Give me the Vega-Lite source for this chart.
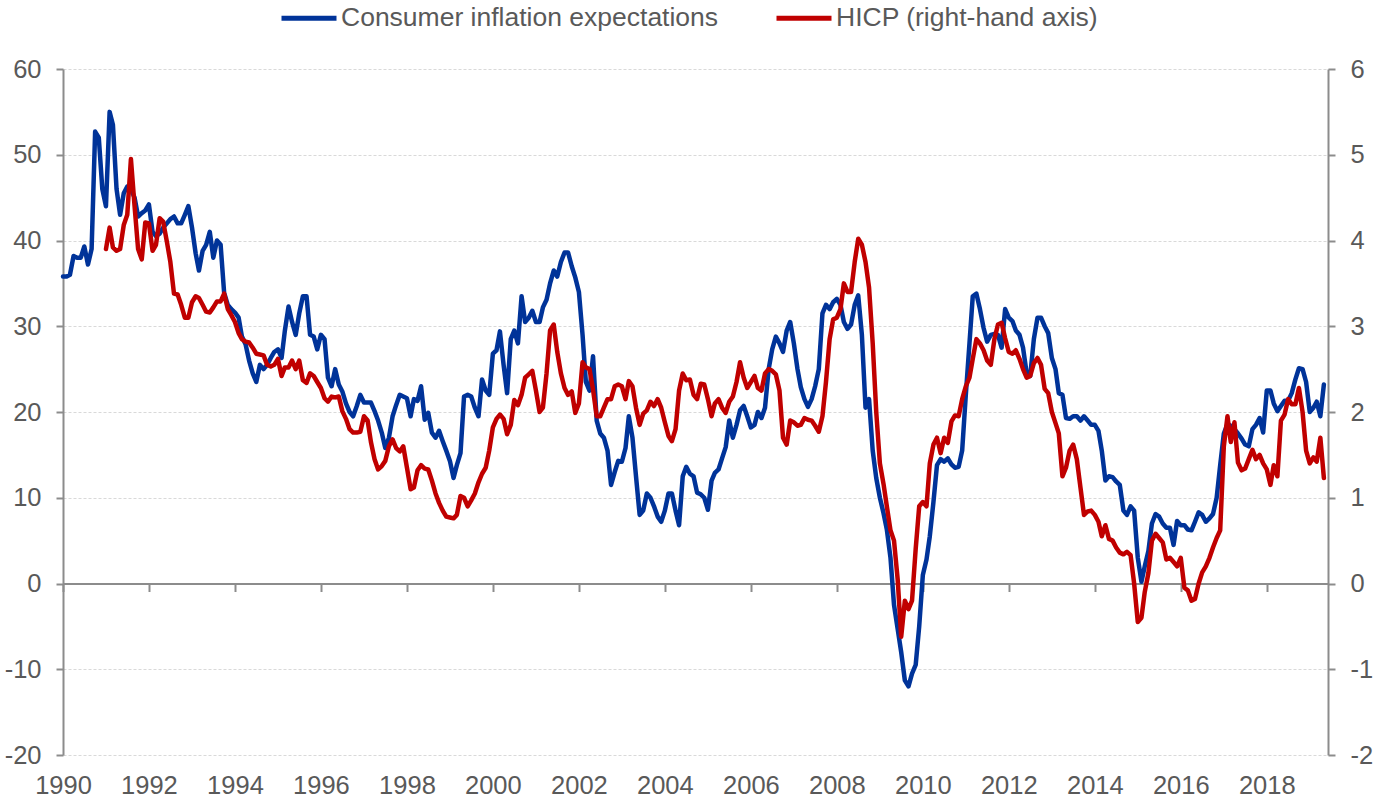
{
"$schema":"https://vega.github.io/schema/vega-lite/v6.json",
"width":1265,"height":686,
"autosize":{"type":"none"},
"padding":{"left":63,"top":69,"right":47,"bottom":46},
"background":"white",
"config":{"view":{"stroke":null},"font":"Liberation Sans",
"axis":{"labelFont":"Liberation Sans","labelFontSize":25.5,"labelColor":"#595959","domainColor":"#8c8c8c","tickColor":"#8c8c8c","domainWidth":2,"tickWidth":2,"tickSize":7,"labelPadding":15,"title":null,"gridColor":"#d9d9d9","gridDash":[3,2],"gridWidth":1}},
"datasets":{
"cie":[
{"d":"1990-01","v":35.8},{"d":"1990-02","v":35.8},{"d":"1990-03","v":36.0},{"d":"1990-04","v":38.2},{"d":"1990-05","v":38.0},{"d":"1990-06","v":38.0},{"d":"1990-07","v":39.3},{"d":"1990-08","v":37.2},{"d":"1990-09","v":39.0},{"d":"1990-10","v":52.7},{"d":"1990-11","v":52.0},{"d":"1990-12","v":46.0},
{"d":"1991-01","v":44.0},{"d":"1991-02","v":55.0},{"d":"1991-03","v":53.5},{"d":"1991-04","v":46.0},{"d":"1991-05","v":43.0},{"d":"1991-06","v":45.5},{"d":"1991-07","v":46.3},{"d":"1991-08","v":46.0},{"d":"1991-09","v":45.0},{"d":"1991-10","v":42.8},{"d":"1991-11","v":43.2},{"d":"1991-12","v":43.5},
{"d":"1992-01","v":44.2},{"d":"1992-02","v":41.0},{"d":"1992-03","v":40.5},{"d":"1992-04","v":40.8},{"d":"1992-05","v":41.5},{"d":"1992-06","v":42.0},{"d":"1992-07","v":42.5},{"d":"1992-08","v":42.8},{"d":"1992-09","v":42.0},{"d":"1992-10","v":42.0},{"d":"1992-11","v":43.0},{"d":"1992-12","v":44.0},
{"d":"1993-01","v":41.5},{"d":"1993-02","v":38.5},{"d":"1993-03","v":36.5},{"d":"1993-04","v":38.8},{"d":"1993-05","v":39.5},{"d":"1993-06","v":41.0},{"d":"1993-07","v":38.0},{"d":"1993-08","v":40.0},{"d":"1993-09","v":39.5},{"d":"1993-10","v":33.9},{"d":"1993-11","v":32.5},{"d":"1993-12","v":32.0},
{"d":"1994-01","v":31.6},{"d":"1994-02","v":31.0},{"d":"1994-03","v":28.8},{"d":"1994-04","v":27.9},{"d":"1994-05","v":26.0},{"d":"1994-06","v":24.5},{"d":"1994-07","v":23.5},{"d":"1994-08","v":25.5},{"d":"1994-09","v":25.0},{"d":"1994-10","v":25.5},{"d":"1994-11","v":26.3},{"d":"1994-12","v":27.0},
{"d":"1995-01","v":27.3},{"d":"1995-02","v":26.3},{"d":"1995-03","v":29.5},{"d":"1995-04","v":32.3},{"d":"1995-05","v":30.5},{"d":"1995-06","v":29.0},{"d":"1995-07","v":31.5},{"d":"1995-08","v":33.5},{"d":"1995-09","v":33.5},{"d":"1995-10","v":29.0},{"d":"1995-11","v":28.8},{"d":"1995-12","v":27.3},
{"d":"1996-01","v":29.0},{"d":"1996-02","v":28.5},{"d":"1996-03","v":24.0},{"d":"1996-04","v":23.0},{"d":"1996-05","v":25.0},{"d":"1996-06","v":23.2},{"d":"1996-07","v":22.4},{"d":"1996-08","v":21.0},{"d":"1996-09","v":20.0},{"d":"1996-10","v":19.5},{"d":"1996-11","v":20.7},{"d":"1996-12","v":22.0},
{"d":"1997-01","v":21.1},{"d":"1997-02","v":21.1},{"d":"1997-03","v":21.1},{"d":"1997-04","v":20.1},{"d":"1997-05","v":19.0},{"d":"1997-06","v":17.6},{"d":"1997-07","v":15.8},{"d":"1997-08","v":17.0},{"d":"1997-09","v":19.5},{"d":"1997-10","v":20.8},{"d":"1997-11","v":22.0},{"d":"1997-12","v":21.8},
{"d":"1998-01","v":21.6},{"d":"1998-02","v":19.5},{"d":"1998-03","v":21.5},{"d":"1998-04","v":21.3},{"d":"1998-05","v":23.0},{"d":"1998-06","v":19.1},{"d":"1998-07","v":19.9},{"d":"1998-08","v":17.6},{"d":"1998-09","v":17.0},{"d":"1998-10","v":17.8},{"d":"1998-11","v":16.6},{"d":"1998-12","v":15.5},
{"d":"1999-01","v":14.3},{"d":"1999-02","v":12.3},{"d":"1999-03","v":13.8},{"d":"1999-04","v":15.2},{"d":"1999-05","v":21.8},{"d":"1999-06","v":22.0},{"d":"1999-07","v":21.8},{"d":"1999-08","v":20.5},{"d":"1999-09","v":19.5},{"d":"1999-10","v":23.8},{"d":"1999-11","v":22.5},{"d":"1999-12","v":22.0},
{"d":"2000-01","v":26.8},{"d":"2000-02","v":27.2},{"d":"2000-03","v":29.4},{"d":"2000-04","v":25.5},{"d":"2000-05","v":22.2},{"d":"2000-06","v":28.5},{"d":"2000-07","v":29.5},{"d":"2000-08","v":28.0},{"d":"2000-09","v":33.5},{"d":"2000-10","v":30.5},{"d":"2000-11","v":31.0},{"d":"2000-12","v":31.8},
{"d":"2001-01","v":30.5},{"d":"2001-02","v":30.5},{"d":"2001-03","v":32.2},{"d":"2001-04","v":33.1},{"d":"2001-05","v":35.0},{"d":"2001-06","v":36.5},{"d":"2001-07","v":35.8},{"d":"2001-08","v":37.5},{"d":"2001-09","v":38.6},{"d":"2001-10","v":38.6},{"d":"2001-11","v":37.0},{"d":"2001-12","v":35.7},
{"d":"2002-01","v":34.0},{"d":"2002-02","v":29.0},{"d":"2002-03","v":23.5},{"d":"2002-04","v":22.5},{"d":"2002-05","v":26.5},{"d":"2002-06","v":19.0},{"d":"2002-07","v":17.5},{"d":"2002-08","v":17.0},{"d":"2002-09","v":15.5},{"d":"2002-10","v":11.5},{"d":"2002-11","v":13.0},{"d":"2002-12","v":14.3},
{"d":"2003-01","v":14.2},{"d":"2003-02","v":15.8},{"d":"2003-03","v":19.5},{"d":"2003-04","v":17.0},{"d":"2003-05","v":12.5},{"d":"2003-06","v":8.0},{"d":"2003-07","v":8.5},{"d":"2003-08","v":10.5},{"d":"2003-09","v":10.0},{"d":"2003-10","v":9.0},{"d":"2003-11","v":7.8},{"d":"2003-12","v":7.2},
{"d":"2004-01","v":8.5},{"d":"2004-02","v":10.5},{"d":"2004-03","v":10.5},{"d":"2004-04","v":8.5},{"d":"2004-05","v":6.8},{"d":"2004-06","v":12.5},{"d":"2004-07","v":13.6},{"d":"2004-08","v":12.8},{"d":"2004-09","v":12.5},{"d":"2004-10","v":10.6},{"d":"2004-11","v":10.4},{"d":"2004-12","v":10.0},
{"d":"2005-01","v":8.6},{"d":"2005-02","v":12.0},{"d":"2005-03","v":12.9},{"d":"2005-04","v":13.3},{"d":"2005-05","v":14.6},{"d":"2005-06","v":15.9},{"d":"2005-07","v":19.0},{"d":"2005-08","v":17.0},{"d":"2005-09","v":18.5},{"d":"2005-10","v":20.2},{"d":"2005-11","v":20.7},{"d":"2005-12","v":19.5},
{"d":"2006-01","v":18.2},{"d":"2006-02","v":18.5},{"d":"2006-03","v":20.0},{"d":"2006-04","v":19.3},{"d":"2006-05","v":20.5},{"d":"2006-06","v":25.0},{"d":"2006-07","v":27.3},{"d":"2006-08","v":28.8},{"d":"2006-09","v":28.0},{"d":"2006-10","v":27.0},{"d":"2006-11","v":29.5},{"d":"2006-12","v":30.5},
{"d":"2007-01","v":28.0},{"d":"2007-02","v":25.0},{"d":"2007-03","v":22.9},{"d":"2007-04","v":21.5},{"d":"2007-05","v":20.6},{"d":"2007-06","v":21.5},{"d":"2007-07","v":23.0},{"d":"2007-08","v":25.0},{"d":"2007-09","v":31.5},{"d":"2007-10","v":32.5},{"d":"2007-11","v":32.0},{"d":"2007-12","v":32.8},
{"d":"2008-01","v":33.2},{"d":"2008-02","v":32.5},{"d":"2008-03","v":30.5},{"d":"2008-04","v":29.7},{"d":"2008-05","v":30.2},{"d":"2008-06","v":32.5},{"d":"2008-07","v":33.6},{"d":"2008-08","v":29.0},{"d":"2008-09","v":20.5},{"d":"2008-10","v":21.5},{"d":"2008-11","v":15.5},{"d":"2008-12","v":12.3},
{"d":"2009-01","v":10.0},{"d":"2009-02","v":8.2},{"d":"2009-03","v":6.3},{"d":"2009-04","v":3.0},{"d":"2009-05","v":-2.5},{"d":"2009-06","v":-5.3},{"d":"2009-07","v":-8.0},{"d":"2009-08","v":-11.3},{"d":"2009-09","v":-12.0},{"d":"2009-10","v":-10.5},{"d":"2009-11","v":-9.5},{"d":"2009-12","v":-5.0},
{"d":"2010-01","v":1.0},{"d":"2010-02","v":2.8},{"d":"2010-03","v":5.5},{"d":"2010-04","v":9.5},{"d":"2010-05","v":13.8},{"d":"2010-06","v":14.5},{"d":"2010-07","v":14.2},{"d":"2010-08","v":14.6},{"d":"2010-09","v":13.9},{"d":"2010-10","v":13.5},{"d":"2010-11","v":13.6},{"d":"2010-12","v":15.5},
{"d":"2011-01","v":22.0},{"d":"2011-02","v":28.0},{"d":"2011-03","v":33.5},{"d":"2011-04","v":33.8},{"d":"2011-05","v":32.0},{"d":"2011-06","v":29.8},{"d":"2011-07","v":28.2},{"d":"2011-08","v":29.0},{"d":"2011-09","v":29.1},{"d":"2011-10","v":29.0},{"d":"2011-11","v":27.5},{"d":"2011-12","v":32.0},
{"d":"2012-01","v":31.0},{"d":"2012-02","v":30.6},{"d":"2012-03","v":29.5},{"d":"2012-04","v":29.0},{"d":"2012-05","v":27.5},{"d":"2012-06","v":24.5},{"d":"2012-07","v":24.2},{"d":"2012-08","v":28.5},{"d":"2012-09","v":31.0},{"d":"2012-10","v":31.0},{"d":"2012-11","v":30.0},{"d":"2012-12","v":29.2},
{"d":"2013-01","v":26.3},{"d":"2013-02","v":25.0},{"d":"2013-03","v":22.2},{"d":"2013-04","v":22.0},{"d":"2013-05","v":19.3},{"d":"2013-06","v":19.2},{"d":"2013-07","v":19.5},{"d":"2013-08","v":19.5},{"d":"2013-09","v":19.0},{"d":"2013-10","v":19.5},{"d":"2013-11","v":19.0},{"d":"2013-12","v":18.5},
{"d":"2014-01","v":18.5},{"d":"2014-02","v":17.8},{"d":"2014-03","v":15.5},{"d":"2014-04","v":12.0},{"d":"2014-05","v":12.5},{"d":"2014-06","v":12.4},{"d":"2014-07","v":11.9},{"d":"2014-08","v":11.5},{"d":"2014-09","v":8.5},{"d":"2014-10","v":8.0},{"d":"2014-11","v":9.0},{"d":"2014-12","v":8.5},
{"d":"2015-01","v":3.0},{"d":"2015-02","v":0.2},{"d":"2015-03","v":2.0},{"d":"2015-04","v":3.8},{"d":"2015-05","v":7.0},{"d":"2015-06","v":8.1},{"d":"2015-07","v":7.8},{"d":"2015-08","v":7.0},{"d":"2015-09","v":6.5},{"d":"2015-10","v":6.5},{"d":"2015-11","v":4.5},{"d":"2015-12","v":7.3},
{"d":"2016-01","v":6.8},{"d":"2016-02","v":6.8},{"d":"2016-03","v":6.3},{"d":"2016-04","v":6.2},{"d":"2016-05","v":7.2},{"d":"2016-06","v":8.3},{"d":"2016-07","v":8.0},{"d":"2016-08","v":7.2},{"d":"2016-09","v":7.6},{"d":"2016-10","v":8.1},{"d":"2016-11","v":10.0},{"d":"2016-12","v":13.8},
{"d":"2017-01","v":17.5},{"d":"2017-02","v":18.6},{"d":"2017-03","v":18.4},{"d":"2017-04","v":18.0},{"d":"2017-05","v":17.5},{"d":"2017-06","v":16.9},{"d":"2017-07","v":16.2},{"d":"2017-08","v":16.0},{"d":"2017-09","v":18.0},{"d":"2017-10","v":18.5},{"d":"2017-11","v":19.3},{"d":"2017-12","v":17.6},
{"d":"2018-01","v":22.5},{"d":"2018-02","v":22.5},{"d":"2018-03","v":21.0},{"d":"2018-04","v":20.1},{"d":"2018-05","v":20.7},{"d":"2018-06","v":21.3},{"d":"2018-07","v":21.3},{"d":"2018-08","v":22.2},{"d":"2018-09","v":23.8},{"d":"2018-10","v":25.1},{"d":"2018-11","v":25.0},{"d":"2018-12","v":23.5},
{"d":"2019-01","v":20.0},{"d":"2019-02","v":20.5},{"d":"2019-03","v":21.2},{"d":"2019-04","v":19.5},{"d":"2019-05","v":23.2}
],
"hicp":[
{"d":"1991-01","v":3.90},{"d":"1991-02","v":4.15},{"d":"1991-03","v":3.92},{"d":"1991-04","v":3.88},{"d":"1991-05","v":3.90},{"d":"1991-06","v":4.18},{"d":"1991-07","v":4.30},{"d":"1991-08","v":4.95},{"d":"1991-09","v":4.40},{"d":"1991-10","v":3.90},{"d":"1991-11","v":3.78},{"d":"1991-12","v":4.21},
{"d":"1992-01","v":4.20},{"d":"1992-02","v":3.88},{"d":"1992-03","v":3.95},{"d":"1992-04","v":4.26},{"d":"1992-05","v":4.22},{"d":"1992-06","v":3.99},{"d":"1992-07","v":3.75},{"d":"1992-08","v":3.38},{"d":"1992-09","v":3.37},{"d":"1992-10","v":3.25},{"d":"1992-11","v":3.10},{"d":"1992-12","v":3.10},
{"d":"1993-01","v":3.28},{"d":"1993-02","v":3.35},{"d":"1993-03","v":3.33},{"d":"1993-04","v":3.25},{"d":"1993-05","v":3.17},{"d":"1993-06","v":3.16},{"d":"1993-07","v":3.22},{"d":"1993-08","v":3.29},{"d":"1993-09","v":3.29},{"d":"1993-10","v":3.38},{"d":"1993-11","v":3.20},{"d":"1993-12","v":3.13},
{"d":"1994-01","v":3.05},{"d":"1994-02","v":2.92},{"d":"1994-03","v":2.85},{"d":"1994-04","v":2.82},{"d":"1994-05","v":2.81},{"d":"1994-06","v":2.75},{"d":"1994-07","v":2.68},{"d":"1994-08","v":2.67},{"d":"1994-09","v":2.66},{"d":"1994-10","v":2.55},{"d":"1994-11","v":2.53},{"d":"1994-12","v":2.55},
{"d":"1995-01","v":2.62},{"d":"1995-02","v":2.42},{"d":"1995-03","v":2.52},{"d":"1995-04","v":2.52},{"d":"1995-05","v":2.60},{"d":"1995-06","v":2.50},{"d":"1995-07","v":2.60},{"d":"1995-08","v":2.37},{"d":"1995-09","v":2.34},{"d":"1995-10","v":2.45},{"d":"1995-11","v":2.42},{"d":"1995-12","v":2.35},
{"d":"1996-01","v":2.28},{"d":"1996-02","v":2.16},{"d":"1996-03","v":2.12},{"d":"1996-04","v":2.18},{"d":"1996-05","v":2.17},{"d":"1996-06","v":2.18},{"d":"1996-07","v":2.01},{"d":"1996-08","v":1.92},{"d":"1996-09","v":1.80},{"d":"1996-10","v":1.76},{"d":"1996-11","v":1.76},{"d":"1996-12","v":1.77},
{"d":"1997-01","v":1.95},{"d":"1997-02","v":1.90},{"d":"1997-03","v":1.65},{"d":"1997-04","v":1.45},{"d":"1997-05","v":1.33},{"d":"1997-06","v":1.37},{"d":"1997-07","v":1.43},{"d":"1997-08","v":1.60},{"d":"1997-09","v":1.68},{"d":"1997-10","v":1.58},{"d":"1997-11","v":1.54},{"d":"1997-12","v":1.60},
{"d":"1998-01","v":1.35},{"d":"1998-02","v":1.10},{"d":"1998-03","v":1.12},{"d":"1998-04","v":1.32},{"d":"1998-05","v":1.38},{"d":"1998-06","v":1.34},{"d":"1998-07","v":1.33},{"d":"1998-08","v":1.20},{"d":"1998-09","v":1.05},{"d":"1998-10","v":0.94},{"d":"1998-11","v":0.85},{"d":"1998-12","v":0.78},
{"d":"1999-01","v":0.77},{"d":"1999-02","v":0.76},{"d":"1999-03","v":0.80},{"d":"1999-04","v":1.02},{"d":"1999-05","v":1.00},{"d":"1999-06","v":0.90},{"d":"1999-07","v":0.97},{"d":"1999-08","v":1.05},{"d":"1999-09","v":1.18},{"d":"1999-10","v":1.28},{"d":"1999-11","v":1.35},{"d":"1999-12","v":1.55},
{"d":"2000-01","v":1.82},{"d":"2000-02","v":1.92},{"d":"2000-03","v":1.97},{"d":"2000-04","v":1.92},{"d":"2000-05","v":1.74},{"d":"2000-06","v":1.85},{"d":"2000-07","v":2.14},{"d":"2000-08","v":2.08},{"d":"2000-09","v":2.20},{"d":"2000-10","v":2.40},{"d":"2000-11","v":2.44},{"d":"2000-12","v":2.48},
{"d":"2001-01","v":2.25},{"d":"2001-02","v":2.00},{"d":"2001-03","v":2.05},{"d":"2001-04","v":2.45},{"d":"2001-05","v":2.95},{"d":"2001-06","v":3.02},{"d":"2001-07","v":2.70},{"d":"2001-08","v":2.45},{"d":"2001-09","v":2.28},{"d":"2001-10","v":2.20},{"d":"2001-11","v":2.24},{"d":"2001-12","v":1.99},
{"d":"2002-01","v":2.10},{"d":"2002-02","v":2.58},{"d":"2002-03","v":2.52},{"d":"2002-04","v":2.50},{"d":"2002-05","v":2.26},{"d":"2002-06","v":1.95},{"d":"2002-07","v":1.95},{"d":"2002-08","v":2.05},{"d":"2002-09","v":2.15},{"d":"2002-10","v":2.15},{"d":"2002-11","v":2.30},{"d":"2002-12","v":2.32},
{"d":"2003-01","v":2.30},{"d":"2003-02","v":2.15},{"d":"2003-03","v":2.36},{"d":"2003-04","v":2.30},{"d":"2003-05","v":2.05},{"d":"2003-06","v":1.85},{"d":"2003-07","v":1.98},{"d":"2003-08","v":2.02},{"d":"2003-09","v":2.12},{"d":"2003-10","v":2.07},{"d":"2003-11","v":2.15},{"d":"2003-12","v":2.05},
{"d":"2004-01","v":1.88},{"d":"2004-02","v":1.72},{"d":"2004-03","v":1.66},{"d":"2004-04","v":1.80},{"d":"2004-05","v":2.25},{"d":"2004-06","v":2.45},{"d":"2004-07","v":2.37},{"d":"2004-08","v":2.38},{"d":"2004-09","v":2.20},{"d":"2004-10","v":2.15},{"d":"2004-11","v":2.33},{"d":"2004-12","v":2.32},
{"d":"2005-01","v":2.15},{"d":"2005-02","v":1.95},{"d":"2005-03","v":2.10},{"d":"2005-04","v":2.15},{"d":"2005-05","v":2.05},{"d":"2005-06","v":1.99},{"d":"2005-07","v":2.12},{"d":"2005-08","v":2.18},{"d":"2005-09","v":2.35},{"d":"2005-10","v":2.58},{"d":"2005-11","v":2.40},{"d":"2005-12","v":2.28},
{"d":"2006-01","v":2.35},{"d":"2006-02","v":2.42},{"d":"2006-03","v":2.28},{"d":"2006-04","v":2.25},{"d":"2006-05","v":2.45},{"d":"2006-06","v":2.50},{"d":"2006-07","v":2.48},{"d":"2006-08","v":2.44},{"d":"2006-09","v":2.25},{"d":"2006-10","v":1.70},{"d":"2006-11","v":1.62},{"d":"2006-12","v":1.90},
{"d":"2007-01","v":1.88},{"d":"2007-02","v":1.84},{"d":"2007-03","v":1.85},{"d":"2007-04","v":1.93},{"d":"2007-05","v":1.91},{"d":"2007-06","v":1.90},{"d":"2007-07","v":1.84},{"d":"2007-08","v":1.77},{"d":"2007-09","v":1.95},{"d":"2007-10","v":2.35},{"d":"2007-11","v":2.85},{"d":"2007-12","v":3.08},
{"d":"2008-01","v":3.10},{"d":"2008-02","v":3.20},{"d":"2008-03","v":3.50},{"d":"2008-04","v":3.40},{"d":"2008-05","v":3.40},{"d":"2008-06","v":3.75},{"d":"2008-07","v":4.02},{"d":"2008-08","v":3.95},{"d":"2008-09","v":3.75},{"d":"2008-10","v":3.45},{"d":"2008-11","v":2.80},{"d":"2008-12","v":2.00},
{"d":"2009-01","v":1.40},{"d":"2009-02","v":1.16},{"d":"2009-03","v":0.90},{"d":"2009-04","v":0.62},{"d":"2009-05","v":0.50},{"d":"2009-06","v":0.05},{"d":"2009-07","v":-0.62},{"d":"2009-08","v":-0.20},{"d":"2009-09","v":-0.30},{"d":"2009-10","v":-0.20},{"d":"2009-11","v":0.40},{"d":"2009-12","v":0.90},
{"d":"2010-01","v":0.95},{"d":"2010-02","v":0.90},{"d":"2010-03","v":1.40},{"d":"2010-04","v":1.62},{"d":"2010-05","v":1.70},{"d":"2010-06","v":1.52},{"d":"2010-07","v":1.70},{"d":"2010-08","v":1.64},{"d":"2010-09","v":1.89},{"d":"2010-10","v":1.96},{"d":"2010-11","v":1.95},{"d":"2010-12","v":2.15},
{"d":"2011-01","v":2.30},{"d":"2011-02","v":2.40},{"d":"2011-03","v":2.62},{"d":"2011-04","v":2.85},{"d":"2011-05","v":2.80},{"d":"2011-06","v":2.72},{"d":"2011-07","v":2.60},{"d":"2011-08","v":2.55},{"d":"2011-09","v":2.85},{"d":"2011-10","v":3.02},{"d":"2011-11","v":3.04},{"d":"2011-12","v":2.86},
{"d":"2012-01","v":2.70},{"d":"2012-02","v":2.68},{"d":"2012-03","v":2.72},{"d":"2012-04","v":2.62},{"d":"2012-05","v":2.50},{"d":"2012-06","v":2.40},{"d":"2012-07","v":2.42},{"d":"2012-08","v":2.57},{"d":"2012-09","v":2.63},{"d":"2012-10","v":2.55},{"d":"2012-11","v":2.27},{"d":"2012-12","v":2.22},
{"d":"2013-01","v":2.00},{"d":"2013-02","v":1.87},{"d":"2013-03","v":1.75},{"d":"2013-04","v":1.25},{"d":"2013-05","v":1.35},{"d":"2013-06","v":1.55},{"d":"2013-07","v":1.62},{"d":"2013-08","v":1.45},{"d":"2013-09","v":1.12},{"d":"2013-10","v":0.80},{"d":"2013-11","v":0.84},{"d":"2013-12","v":0.85},
{"d":"2014-01","v":0.80},{"d":"2014-02","v":0.72},{"d":"2014-03","v":0.55},{"d":"2014-04","v":0.68},{"d":"2014-05","v":0.52},{"d":"2014-06","v":0.50},{"d":"2014-07","v":0.42},{"d":"2014-08","v":0.36},{"d":"2014-09","v":0.34},{"d":"2014-10","v":0.37},{"d":"2014-11","v":0.33},{"d":"2014-12","v":0.00},
{"d":"2015-01","v":-0.45},{"d":"2015-02","v":-0.40},{"d":"2015-03","v":-0.10},{"d":"2015-04","v":0.12},{"d":"2015-05","v":0.50},{"d":"2015-06","v":0.58},{"d":"2015-07","v":0.53},{"d":"2015-08","v":0.48},{"d":"2015-09","v":0.28},{"d":"2015-10","v":0.30},{"d":"2015-11","v":0.25},{"d":"2015-12","v":0.20},
{"d":"2016-01","v":0.30},{"d":"2016-02","v":-0.05},{"d":"2016-03","v":-0.08},{"d":"2016-04","v":-0.20},{"d":"2016-05","v":-0.18},{"d":"2016-06","v":0.00},{"d":"2016-07","v":0.13},{"d":"2016-08","v":0.20},{"d":"2016-09","v":0.30},{"d":"2016-10","v":0.42},{"d":"2016-11","v":0.53},{"d":"2016-12","v":0.62},
{"d":"2017-01","v":1.60},{"d":"2017-02","v":1.95},{"d":"2017-03","v":1.65},{"d":"2017-04","v":1.88},{"d":"2017-05","v":1.41},{"d":"2017-06","v":1.32},{"d":"2017-07","v":1.34},{"d":"2017-08","v":1.45},{"d":"2017-09","v":1.56},{"d":"2017-10","v":1.45},{"d":"2017-11","v":1.50},{"d":"2017-12","v":1.40},
{"d":"2018-01","v":1.33},{"d":"2018-02","v":1.15},{"d":"2018-03","v":1.38},{"d":"2018-04","v":1.25},{"d":"2018-05","v":1.90},{"d":"2018-06","v":1.97},{"d":"2018-07","v":2.15},{"d":"2018-08","v":2.09},{"d":"2018-09","v":2.09},{"d":"2018-10","v":2.28},{"d":"2018-11","v":2.00},{"d":"2018-12","v":1.55},
{"d":"2019-01","v":1.40},{"d":"2019-02","v":1.47},{"d":"2019-03","v":1.42},{"d":"2019-04","v":1.70},{"d":"2019-05","v":1.23}
]},
"layer":[
{"data":{"name":"cie"},
 "mark":{"type":"line","strokeWidth":4.5,"strokeJoin":"round","strokeCap":"round"},
 "encoding":{
  "x":{"field":"d","type":"temporal","scale":{"domain":[{"year":1990,"month":1,"date":1},{"year":2019,"month":6,"date":5}],"nice":false},
   "axis":{"orient":"bottom","offset":-171.5,"format":"%Y","tickCount":{"interval":"year","step":2},"tickSize":8,"labelPadding":182,"labelFlush":false,"labelOverlap":false,"grid":false}},
  "y":{"field":"v","type":"quantitative","scale":{"domain":[-20,60],"nice":false,"zero":false},
   "axis":{"orient":"left","values":[-20,-10,0,10,20,30,40,50,60],"grid":true,"labelExpr":"replace(datum.label, '\u2212', '-')"}},
  "color":{"datum":"Consumer inflation expectations","type":"nominal",
   "scale":{"domain":["Consumer inflation expectations","HICP (right-hand axis)"],"range":["#003399","#c00000"]},
   "legend":{"orient":"none","legendX":216,"legendY":-81,"direction":"horizontal","title":null,"symbolType":"stroke","symbolSize":3025,"symbolStrokeWidth":5,"labelFont":"Liberation Sans","labelFontSize":26.5,"labelColor":"#595959","labelOffset":2,"labelLimit":600,"columnPadding":47}}
 }},
{"data":{"name":"hicp"},
 "mark":{"type":"line","strokeWidth":4.5,"strokeJoin":"round","strokeCap":"round"},
 "encoding":{
  "x":{"field":"d","type":"temporal"},
  "y":{"field":"v","type":"quantitative","scale":{"domain":[-2,6],"nice":false,"zero":false},
   "axis":{"orient":"right","values":[-2,-1,0,1,2,3,4,5,6],"grid":false,"labelExpr":"replace(datum.label, '\u2212', '-')"}},
  "color":{"datum":"HICP (right-hand axis)","type":"nominal"}
 }}
],
"resolve":{"scale":{"y":"independent"},"axis":{"y":"independent"}}
}
